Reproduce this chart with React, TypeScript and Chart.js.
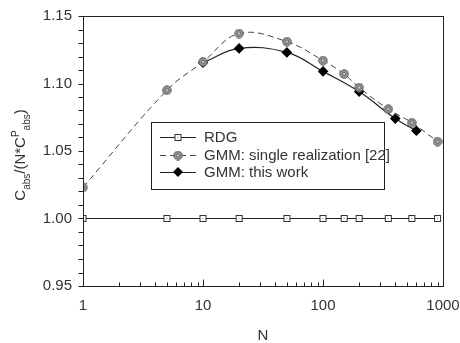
import React, { useEffect, useRef } from 'react';
import { Chart, registerables } from 'chart.js';
Chart.register(...registerables);

const rdgN = [1, 5, 10, 20, 50, 100, 150, 200, 350, 550, 900];
const rdgVal = [1, 1, 1, 1, 1, 1, 1, 1, 1, 1, 1];
const singleN = [1, 5, 10, 20, 50, 100, 150, 200, 350, 550, 900];
const singleVal = [1.023, 1.095, 1.116, 1.137, 1.131, 1.117, 1.107, 1.097, 1.081, 1.071, 1.057];
const workN = [10, 20, 50, 100, 200, 400, 600];
const workVal = [1.1155, 1.126, 1.123, 1.109, 1.094, 1.074, 1.065];
const xTickLabels = [1, 10, 100, 1000];
const yMin = 0.95;
const yMax = 1.15;
const legendLabels = ['RDG', 'GMM: single realization [22]', 'GMM: this work'];
const xTitle = 'N';

const FONT = '"Liberation Sans", Arial, sans-serif';
const INK = '#222';

function makeSquareMarker(): HTMLCanvasElement {
  const c = document.createElement('canvas');
  c.width = 9; c.height = 9;
  const g = c.getContext('2d')!;
  g.fillStyle = '#fff';
  g.fillRect(1, 1, 7, 7);
  g.strokeStyle = '#333';
  g.lineWidth = 1;
  g.strokeRect(1.5, 1.5, 6, 6);
  g.fillStyle = '#888';
  g.fillRect(4, 4, 1, 1);
  return c;
}

function makeCircleMarker(): HTMLCanvasElement {
  const c = document.createElement('canvas');
  c.width = 10; c.height = 10;
  const g = c.getContext('2d')!;
  g.beginPath();
  g.arc(5, 5, 4.2, 0, Math.PI * 2);
  g.fillStyle = '#999';
  g.fill();
  g.strokeStyle = '#555';
  g.lineWidth = 1;
  g.stroke();
  g.beginPath();
  g.arc(5, 5, 1.8, 0, Math.PI * 2);
  g.fillStyle = '#c8c8c8';
  g.fill();
  g.strokeStyle = '#666';
  g.stroke();
  return c;
}

function toXY(xs: number[], ys: number[]) {
  return xs.map((x, i) => ({ x, y: ys[i] }));
}

export default function App() {
  const ref = useRef<HTMLCanvasElement | null>(null);

  useEffect(() => {
    document.body.style.margin = '0';
    const sq = makeSquareMarker();
    const ci = makeCircleMarker();

    const deco = {
      id: 'deco',
      afterDraw(chart: any) {
        const { ctx, chartArea: a, scales } = chart;
        const xs = scales.x;
        const ys = scales.y;
        ctx.save();
        ctx.strokeStyle = INK;
        ctx.lineWidth = 1;
        const L = Math.round(a.left) + 0.5;
        const R = Math.round(a.right) + 0.5;
        const T = Math.round(a.top) + 0.5;
        const B = Math.round(a.bottom) + 0.5;
        ctx.strokeRect(L, T, R - L, B - T);
        ctx.beginPath();
        for (let d = 1; d <= 1000; d *= 10) {
          for (let m = 1; m <= 9; m++) {
            const v = d * m;
            if (v > 1000) break;
            const px = Math.round(xs.getPixelForValue(v)) + 0.5;
            const len = m === 1 ? 7 : 4;
            ctx.moveTo(px, B);
            ctx.lineTo(px, B - len);
          }
        }
        for (let i = 0; i <= 20; i++) {
          const v = yMin + 0.01 * i;
          const py = Math.round(ys.getPixelForValue(v)) + 0.5;
          ctx.moveTo(L - 5, py);
          ctx.lineTo(L, py);
        }
        ctx.stroke();

        // legend
        const lx = 151, ly = 122, lw = 233, lh = 67;
        ctx.fillStyle = '#fff';
        ctx.fillRect(lx, ly, lw, lh);
        ctx.strokeRect(lx + 0.5, ly + 0.5, lw, lh);
        const rows = [137, 155, 172];
        ctx.font = `15px ${FONT}`;
        ctx.textBaseline = 'middle';
        rows.forEach((ry, i) => {
          ctx.beginPath();
          ctx.strokeStyle = i === 1 ? '#444' : INK;
          ctx.setLineDash(i === 1 ? [6, 4] : []);
          ctx.moveTo(160, ry + 0.5);
          ctx.lineTo(196, ry + 0.5);
          ctx.stroke();
          ctx.setLineDash([]);
          if (i === 0) ctx.drawImage(sq, 178 - 4.5, ry - 4);
          if (i === 1) ctx.drawImage(ci, 178 - 5, ry - 4.5);
          if (i === 2) {
            ctx.beginPath();
            ctx.moveTo(178, ry - 5);
            ctx.lineTo(183, ry);
            ctx.lineTo(178, ry + 5);
            ctx.lineTo(173, ry);
            ctx.closePath();
            ctx.fillStyle = '#000';
            ctx.fill();
          }
          ctx.fillStyle = '#333';
          ctx.fillText(legendLabels[i], 204, ry + 1);
        });

        // y title with sub/superscripts
        const parts: [string, number, number][] = [
          ['C', 15, 0],
          ['abs', 10, 5],
          ['/(N*C', 15, 0],
          ['P', 10, -6],
          ['abs', 10, 5],
          [')', 15, 0],
        ];
        let total = 0;
        parts.forEach(([t, s]) => {
          ctx.font = `${s}px ${FONT}`;
          total += ctx.measureText(t).width;
        });
        ctx.translate(20, (a.top + a.bottom) / 2 + 4);
        ctx.rotate(-Math.PI / 2);
        ctx.textBaseline = 'alphabetic';
        ctx.fillStyle = '#333';
        let cx = -total / 2;
        parts.forEach(([t, s, off]) => {
          ctx.font = `${s}px ${FONT}`;
          ctx.fillText(t, cx, 5 + off);
          cx += ctx.measureText(t).width;
        });
        ctx.restore();
      },
    };

    const chart = new Chart(ref.current!, {
      type: 'line',
      data: {
        datasets: [
          {
            label: legendLabels[0],
            data: toXY(rdgN, rdgVal),
            borderColor: INK,
            borderWidth: 1,
            pointStyle: sq,
            tension: 0,
          },
          {
            label: legendLabels[1],
            data: toXY(singleN, singleVal),
            borderColor: '#444',
            borderWidth: 1,
            borderDash: [6, 4],
            pointStyle: ci,
            tension: 0.4,
          },
          {
            label: legendLabels[2],
            data: toXY(workN, workVal),
            borderColor: INK,
            borderWidth: 1.2,
            pointStyle: 'rectRot',
            pointRadius: 4.5,
            pointBackgroundColor: '#000',
            pointBorderColor: '#000',
            tension: 0.4,
          },
        ],
      },
      options: {
        animation: false,
        responsive: false,
        layout: { padding: { top: 16, right: 17, left: 0, bottom: 0 } },
        plugins: { legend: { display: false }, tooltip: { enabled: false } },
        scales: {
          x: {
            type: 'logarithmic',
            min: 1,
            max: 1000,
            grid: { display: false, drawTicks: false },
            border: { display: false },
            ticks: {
              autoSkip: false,
              maxRotation: 0,
              padding: 11,
              color: '#333',
              font: { family: FONT, size: 15 },
              callback: (v: any) => (xTickLabels.includes(Number(v)) ? String(v) : ''),
            },
            title: {
              display: true,
              text: xTitle,
              color: '#333',
              font: { family: FONT, size: 15 },
              padding: { top: 0, bottom: -2 },
            },
            afterFit: (s: any) => {
              s.height = 57;
              s.paddingLeft = 0;
              s.paddingRight = 0;
            },
          },
          y: {
            min: yMin,
            max: yMax,
            grid: { display: false, drawTicks: false },
            border: { display: false },
            ticks: {
              stepSize: 0.05,
              padding: 11,
              color: '#333',
              font: { family: FONT, size: 15 },
              callback: (v: any) => Number(v).toFixed(2),
            },
            afterFit: (s: any) => {
              s.width = 83;
              s.paddingTop = 0;
              s.paddingBottom = 0;
            },
          },
        },
      },
      plugins: [deco],
    } as any);
    return () => chart.destroy();
  }, []);

  return (
    <div style={{ width: 460, height: 343 }}>
      <canvas ref={ref} width={460} height={343} />
    </div>
  );
}
